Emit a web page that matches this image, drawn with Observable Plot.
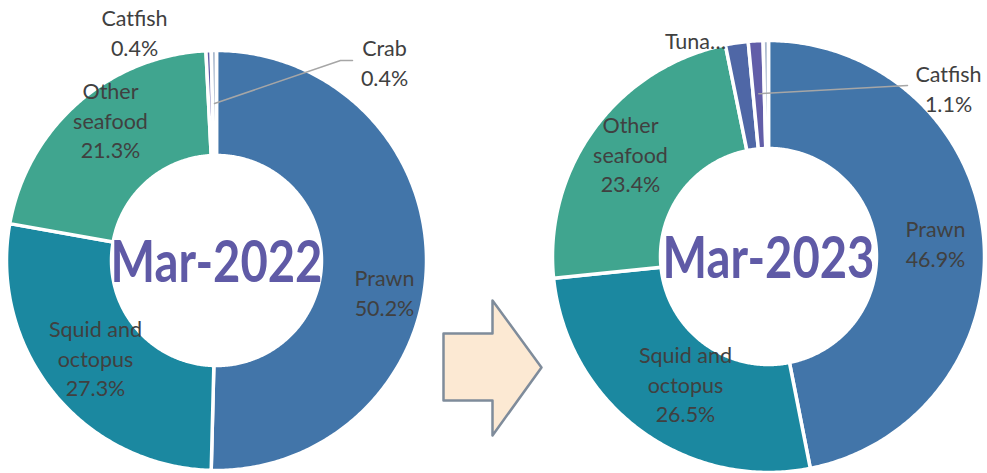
<!DOCTYPE html>
<html>
<head>
<meta charset="utf-8">
<script src="https://cdn.jsdelivr.net/npm/d3@7"></script>
<script src="https://cdn.jsdelivr.net/npm/@observablehq/plot@0.6"></script>
<style>
  html, body { margin: 0; padding: 0; background: #fff; }
  #chart { width: 987px; height: 473px; }
</style>
</head>
<body>
<div id="chart"></div>
<script>
// ---- data ----
const categories2022 = ["Prawn", "Squid and octopus", "Other seafood", "Catfish", "Crab"];
const values2022 = [50.2, 27.3, 21.3, 0.4, 0.4];
const categories2023 = ["Prawn", "Squid and octopus", "Other seafood", "Tuna", "Catfish", "Crab"];
const values2023 = [46.9, 26.5, 23.4, 1.7, 1.1, 0.4];
const titles = ["Mar-2022", "Mar-2023"];

const allCategories = ["Prawn", "Squid and octopus", "Other seafood", "Tuna", "Catfish", "Crab"];
const categoryColors = ["#4275a9", "#1b88a0", "#40a58f", "#4f67a6", "#625ea8", "#a9b8cc"];

// ---- layout ----
const W = 987, H = 473;
const donuts = [
  {cx: 216, cy: 260, ri: 105, ro: 210, cats: categories2022, vals: values2022, title: titles[0]},
  {cx: 768, cy: 256, ri: 108, ro: 216, cats: categories2023, vals: values2023, title: titles[1]}
];

// slice polygons computed from values
const slicePts = [];
donuts.forEach((d, di) => {
  const total = d3.sum(d.vals);
  let acc = 0;
  d.vals.forEach((v, i) => {
    const a0 = acc / total * 2 * Math.PI; acc += v;
    const a1 = acc / total * 2 * Math.PI;
    const n = Math.max(2, Math.ceil((a1 - a0) / 0.01));
    const key = di + "-" + i;
    for (let k = 0; k <= n; k++) {
      const a = a0 + (a1 - a0) * k / n;
      slicePts.push({key, cat: d.cats[i], x: d.cx + d.ro * Math.sin(a), y: d.cy - d.ro * Math.cos(a)});
    }
    for (let k = n; k >= 0; k--) {
      const a = a0 + (a1 - a0) * k / n;
      slicePts.push({key, cat: d.cats[i], x: d.cx + d.ri * Math.sin(a), y: d.cy - d.ri * Math.cos(a)});
    }
  });
});

// label text + placements
const fmt = v => v.toFixed(1) + "%";
const labelLines = {
  "Prawn": "Prawn", "Squid and octopus": "Squid and\noctopus", "Other seafood": "Other\nseafood",
  "Catfish": "Catfish", "Crab": "Crab", "Tuna": "Tuna"
};
const labelPos2022 = {"Prawn": [384, 291], "Squid and octopus": [95, 357], "Other seafood": [110, 119], "Catfish": [134, 31], "Crab": [384, 61]};
const labelPos2023 = {"Prawn": [935, 242], "Squid and octopus": [685, 383], "Other seafood": [630, 153], "Catfish": [948, 87]};
const labels = [];
categories2022.forEach((c, i) => {
  const p = labelPos2022[c];
  labels.push({x: p[0], y: p[1], text: labelLines[c] + "\n" + fmt(values2022[i])});
});
categories2023.forEach((c, i) => {
  const p = labelPos2023[c];
  if (p) labels.push({x: p[0], y: p[1], text: labelLines[c] + "\n" + fmt(values2023[i])});
});
const truncated = [{x: 695, y: 42, text: "Tuna…"}];

// leader lines from slice middle to label
function midPoint(d, cat, r) {
  const total = d3.sum(d.vals);
  const i = d.cats.indexOf(cat);
  const before = d3.sum(d.vals.slice(0, i));
  const a = (before + d.vals[i] / 2) / total * 2 * Math.PI;
  return {x: d.cx + r * Math.sin(a), y: d.cy - r * Math.cos(a)};
}
const leaders = [];
{
  const s = midPoint(donuts[0], "Crab", 157);
  leaders.push({k: "a", ...s}, {k: "a", x: 340, y: 60}, {k: "a", x: 352, y: 60});
  const t = midPoint(donuts[1], "Catfish", 163);
  leaders.push({k: "b", ...t}, {k: "b", x: 907, y: 85});
}

// arrow shape
const arrowShape = [[443, 333], [492, 333], [492, 300], [541, 367], [492, 435], [492, 400], [443, 400]].map(([x, y]) => ({x, y}));

const centerTitles = donuts.map(d => ({x: d.cx, y: d.cy + 3, text: d.title}));

const chart = Plot.plot({
  width: W, height: H,
  margin: 0,
  x: {domain: [0, W], range: [0, W], axis: null},
  y: {domain: [0, H], range: [0, H], axis: null},
  color: {domain: allCategories, range: categoryColors},
  style: {fontFamily: "Lato, 'Open Sans', sans-serif", background: "white"},
  marks: [
    Plot.line(slicePts, {x: "x", y: "y", z: "key", fill: "cat", stroke: "white", strokeWidth: 3.5, curve: "linear-closed"}),
    Plot.line(arrowShape, {x: "x", y: "y", curve: "linear-closed", fill: "#fce9d3", stroke: "#7f8c9b", strokeWidth: 2.5}),
    Plot.line(leaders, {x: "x", y: "y", z: "k", stroke: "#a6a6a6", strokeWidth: 1.5}),
    Plot.text(labels, {x: "x", y: "y", text: "text", fill: "#404040", fontSize: 21.5, lineHeight: 1.37, lineAnchor: "middle"}),
    Plot.text(truncated, {x: "x", y: "y", text: "text", fill: "#404040", fontSize: 21.5, lineAnchor: "middle"}),
    Plot.text(centerTitles, {x: "x", y: "y", text: "text", fill: "#5f5aa6", fontSize: 58, fontWeight: "bold", lineAnchor: "middle"})
  ]
});
document.getElementById("chart").appendChild(chart);
// squeeze the centre titles horizontally to the reference's narrower face
d3.select(chart).selectAll("text").each(function() {
  if (this.textContent.startsWith("Mar-")) {
    const w = this.getBBox().width;
    const s = 212 / w;
    const t = this.getAttribute("transform") || "";
    this.setAttribute("transform", t + ` scale(${s.toFixed(3)},1)`);
  }
});
</script>
</body>
</html>
